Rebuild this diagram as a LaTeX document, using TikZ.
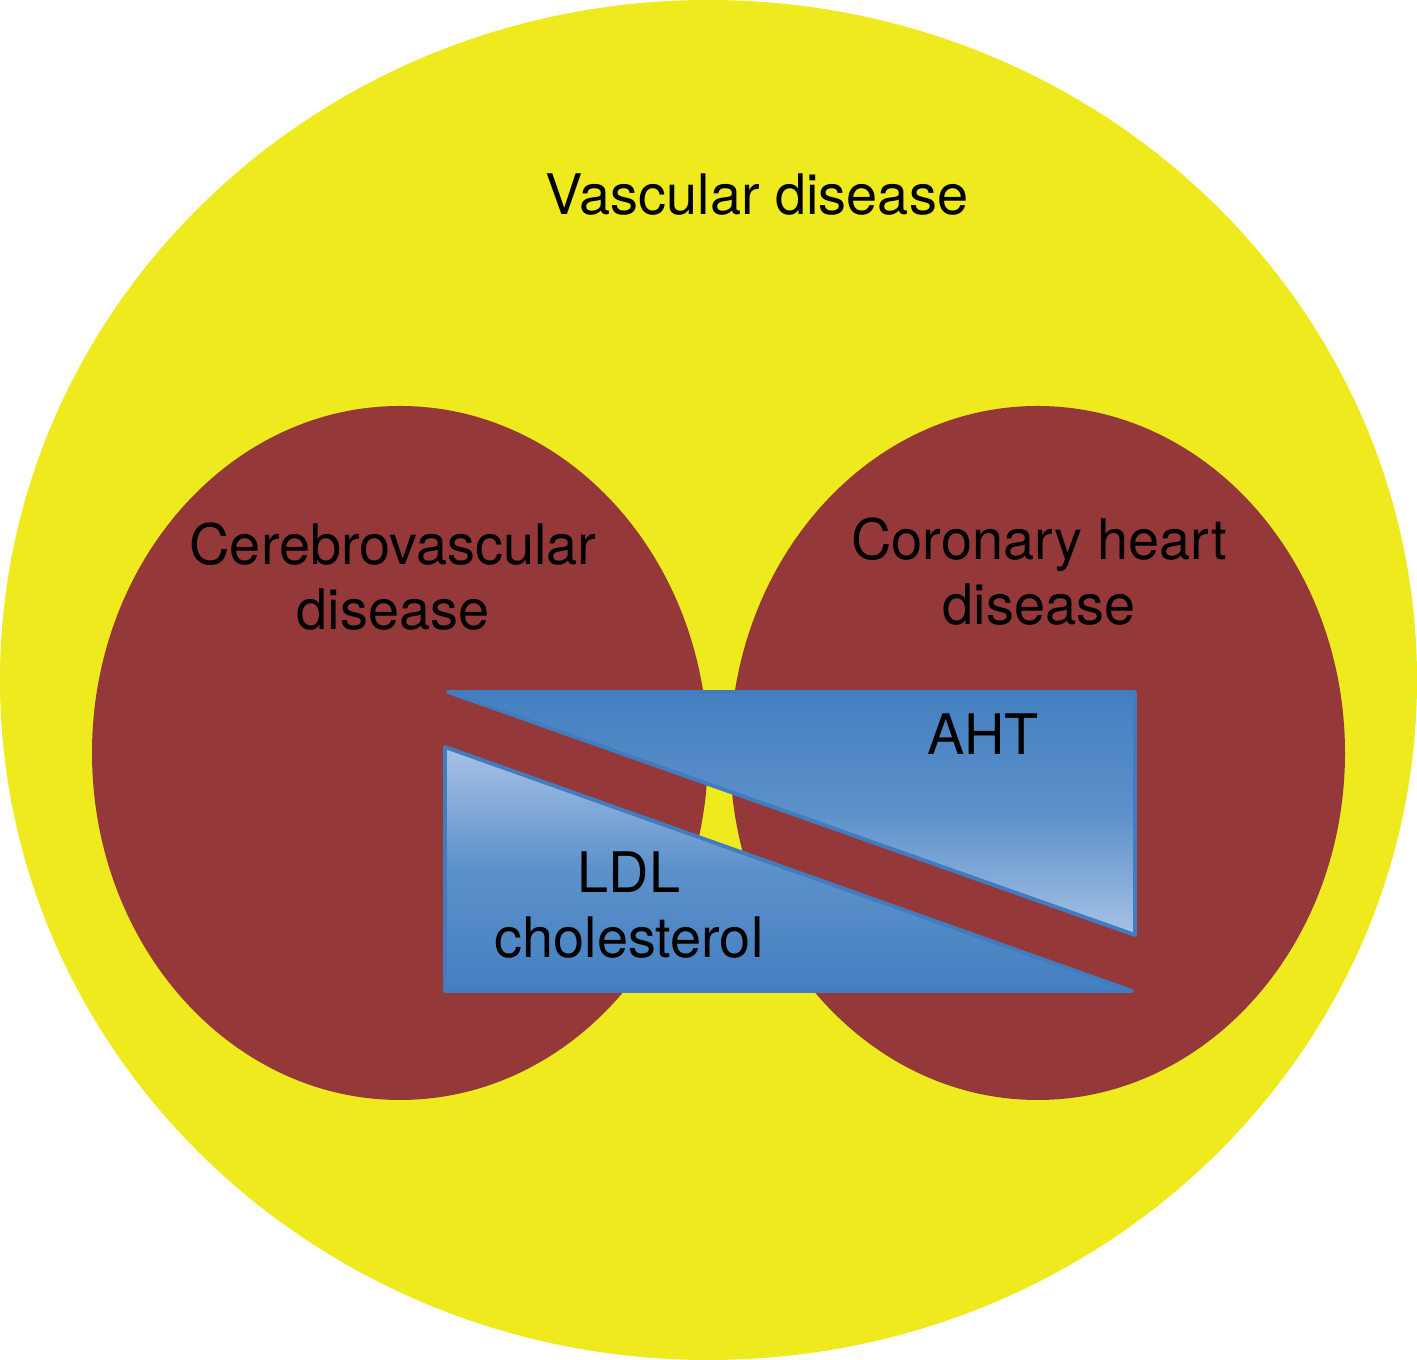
\documentclass[tikz,border=0pt]{standalone}
\usepackage{fontspec}
\setmainfont{TeX Gyre Heros}
\usepackage{xcolor}
\definecolor{vascyellow}{RGB}{239,234,30}
\definecolor{diseasered}{RGB}{148,56,58}
\definecolor{bluedark}{RGB}{68,128,193}
\definecolor{bluelight}{RGB}{166,194,230}
\definecolor{blueedge}{RGB}{66,124,192}

\begin{document}
\begin{tikzpicture}[
    lbl/.style={align=center, inner sep=0pt, font=\fontsize{15.9}{18.5}\selectfont},
    wedge/.style={draw=blueedge, line width=1.1pt, line join=round}]
    \useasboundingbox (0,0) rectangle (14.17,13.6);

    \fill[vascyellow] (7.085,6.8) ellipse (7.085cm and 6.8cm);
    \fill[diseasered] (4,6.07) ellipse (3.08cm and 3.47cm);
    \fill[diseasered] (10.375,6.07) ellipse (3.075cm and 3.47cm);

    \shade[wedge, top color=bluedark, bottom color=bluelight, middle color=bluedark!75!bluelight]
        (4.48,6.68) -- (11.35,6.68) -- (11.35,4.25) -- cycle;
    \shade[wedge, top color=bluelight, bottom color=bluedark, middle color=bluedark!75!bluelight]
        (4.45,6.13) -- (4.45,3.69) -- (11.32,3.69) -- cycle;

    \node[lbl] (vasc) at (7.57,11.65) {Vascular disease};
    \node[lbl] (cereb) at (3.93,7.83) {Cerebrovascular\\disease};
    \node[lbl] (coron) at (10.39,7.88) {Coronary heart\\disease};
    \node[lbl] (aht) at (9.83,6.26) {AHT};
    \node[lbl] (ldl) at (6.29,4.55) {LDL\\cholesterol};
\end{tikzpicture}
\end{document}
